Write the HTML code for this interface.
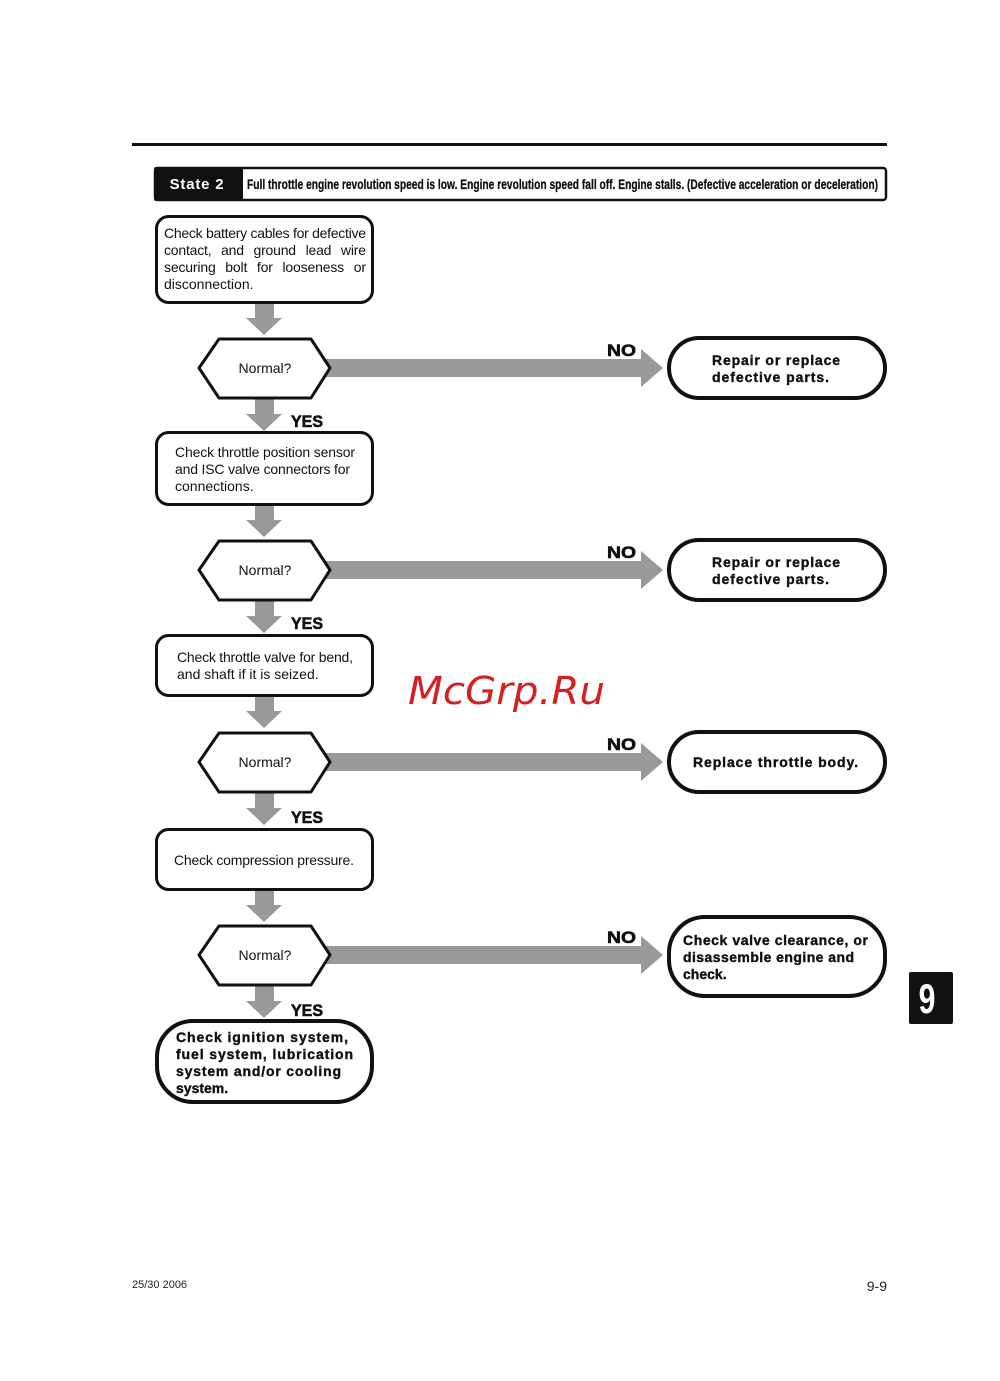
<!DOCTYPE html>
<html><head><meta charset="utf-8"><style>
html,body{margin:0;padding:0;background:#fff;}
svg{display:block;}
</style></head><body>
<svg width="1000" height="1381" viewBox="0 0 1000 1381" xmlns="http://www.w3.org/2000/svg" font-family="Liberation Sans, Arial, sans-serif">
<rect width="1000" height="1381" fill="#fff"/>
<rect x="132" y="143" width="755" height="3" fill="#111"/>
<rect x="155" y="168" width="731" height="32" rx="3" fill="#fff" stroke="#111" stroke-width="2.5"/>
<rect x="154" y="167" width="89" height="34" rx="2" fill="#111"/>
<text x="197" y="189" font-size="15" font-weight="bold" fill="#fff" text-anchor="middle" letter-spacing="0.8">State 2</text>
<text x="247" y="189" font-size="14" font-weight="bold" fill="#111" stroke="#111" stroke-width="0.3" textLength="631" lengthAdjust="spacingAndGlyphs">Full throttle engine revolution speed is low. Engine revolution speed fall off. Engine stalls. (Defective acceleration or deceleration)</text>

<g fill="#999">
<g transform="translate(0,303)"><rect x="255" y="0" width="19" height="16"/><polygon points="246,15 282,15 264,32"/></g>
<g transform="translate(0,399)"><rect x="255" y="0" width="19" height="16"/><polygon points="246,15 282,15 264,32"/></g>
<g transform="translate(0,505)"><rect x="255" y="0" width="19" height="16"/><polygon points="246,15 282,15 264,32"/></g>
<g transform="translate(0,601)"><rect x="255" y="0" width="19" height="16"/><polygon points="246,15 282,15 264,32"/></g>
<g transform="translate(0,696)"><rect x="255" y="0" width="19" height="16"/><polygon points="246,15 282,15 264,32"/></g>
<g transform="translate(0,793)"><rect x="255" y="0" width="19" height="16"/><polygon points="246,15 282,15 264,32"/></g>
<g transform="translate(0,890)"><rect x="255" y="0" width="19" height="16"/><polygon points="246,15 282,15 264,32"/></g>
<g transform="translate(0,986)"><rect x="255" y="0" width="19" height="16"/><polygon points="246,15 282,15 264,32"/></g>
<g transform="translate(0,368)"><rect x="326" y="-9" width="316" height="18"/><polygon points="641,-19 641,19 663,0"/></g>
<g transform="translate(0,570)"><rect x="326" y="-9" width="316" height="18"/><polygon points="641,-19 641,19 663,0"/></g>
<g transform="translate(0,762)"><rect x="326" y="-9" width="316" height="18"/><polygon points="641,-19 641,19 663,0"/></g>
<g transform="translate(0,955)"><rect x="326" y="-9" width="316" height="18"/><polygon points="641,-19 641,19 663,0"/></g>
</g>

<g fill="#fff" stroke="#111" stroke-width="3" stroke-linejoin="round">
<rect x="156.5" y="216.5" width="216" height="86" rx="12"/>
<rect x="156.5" y="432.5" width="216" height="72" rx="12"/>
<rect x="156.5" y="635.5" width="216" height="60" rx="12"/>
<rect x="156.5" y="829.5" width="216" height="60" rx="12"/>
<polygon points="199,368 219,339 311,339 330,368 311,398 219,398"/>
<polygon points="199,570 219,541 311,541 330,570 311,600 219,600"/>
<polygon points="199,762 219,733 311,733 330,762 311,792 219,792"/>
<polygon points="199,955 219,926 311,926 330,955 311,985 219,985"/>
</g>
<g fill="#fff" stroke="#111" stroke-width="4">
<rect x="669" y="338" width="216" height="60" rx="30"/>
<rect x="669" y="540" width="216" height="60" rx="30"/>
<rect x="669" y="732" width="216" height="60" rx="30"/>
<rect x="669" y="917" width="216" height="79" rx="36"/>
<rect x="157" y="1021" width="215" height="81" rx="36"/>
</g>

<g font-size="14" fill="#111">
<text x="164" y="238" textLength="202" lengthAdjust="spacing">Check battery cables for defective</text>
<text x="164" y="255" textLength="202" lengthAdjust="spacing" word-spacing="6">contact, and ground lead wire</text>
<text x="164" y="272" textLength="202" lengthAdjust="spacing" word-spacing="6">securing bolt for looseness or</text>
<text x="164" y="289">disconnection.</text>
<text x="175" y="457" textLength="180">Check throttle position sensor</text>
<text x="175" y="474" textLength="175">and ISC valve connectors for</text>
<text x="175" y="491">connections.</text>
<text x="177" y="662" textLength="176">Check throttle valve for bend,</text>
<text x="177" y="679">and shaft if it is seized.</text>
<text x="264" y="865" text-anchor="middle" textLength="180">Check compression pressure.</text>
<text x="265" y="373" text-anchor="middle">Normal?</text>
<text x="265" y="575" text-anchor="middle">Normal?</text>
<text x="265" y="767" text-anchor="middle">Normal?</text>
<text x="265" y="960" text-anchor="middle">Normal?</text>
</g>
<g font-size="17" font-weight="bold" fill="#111" stroke="#111" stroke-width="0.6">
<text x="607" y="356" textLength="29" lengthAdjust="spacingAndGlyphs">NO</text><text x="607" y="558" textLength="29" lengthAdjust="spacingAndGlyphs">NO</text><text x="607" y="750" textLength="29" lengthAdjust="spacingAndGlyphs">NO</text><text x="607" y="943" textLength="29" lengthAdjust="spacingAndGlyphs">NO</text>
<text x="291" y="427" textLength="32" lengthAdjust="spacingAndGlyphs">YES</text><text x="291" y="629" textLength="32" lengthAdjust="spacingAndGlyphs">YES</text><text x="291" y="823" textLength="32" lengthAdjust="spacingAndGlyphs">YES</text><text x="291" y="1016" textLength="32" lengthAdjust="spacingAndGlyphs">YES</text>
</g>
<g font-size="14" font-weight="bold" fill="#111" stroke="#111" stroke-width="0.4">
<text x="712" y="365" textLength="128">Repair or replace</text>
<text x="712" y="382" textLength="117">defective parts.</text>
<text x="712" y="567" textLength="128">Repair or replace</text>
<text x="712" y="584" textLength="117">defective parts.</text>
<text x="693" y="767" textLength="165">Replace throttle body.</text>
<text x="683" y="945" textLength="185">Check valve clearance, or</text>
<text x="683" y="962" textLength="171">disassemble engine and</text>
<text x="683" y="979">check.</text>
<text x="176" y="1042" textLength="172">Check ignition system,</text>
<text x="176" y="1059" textLength="177">fuel system, lubrication</text>
<text x="176" y="1076" textLength="165">system and/or cooling</text>
<text x="176" y="1093">system.</text>
</g>
<text x="408" y="704" font-family="DejaVu Sans, sans-serif" font-style="italic" font-size="38" fill="#d42020" textLength="197" lengthAdjust="spacingAndGlyphs">McGrp.Ru</text>
<rect x="909" y="972" width="44" height="52" rx="2" fill="#111"/>
<text x="0" y="0" font-size="42" font-weight="bold" fill="#fff" text-anchor="middle" transform="translate(927,1013) scale(0.72,1)">9</text>
<text x="132" y="1288" font-size="11" fill="#222">25/30  2006</text>
<text x="887" y="1291" font-size="14" fill="#222" text-anchor="end">9-9</text>
</svg>
</body></html>
